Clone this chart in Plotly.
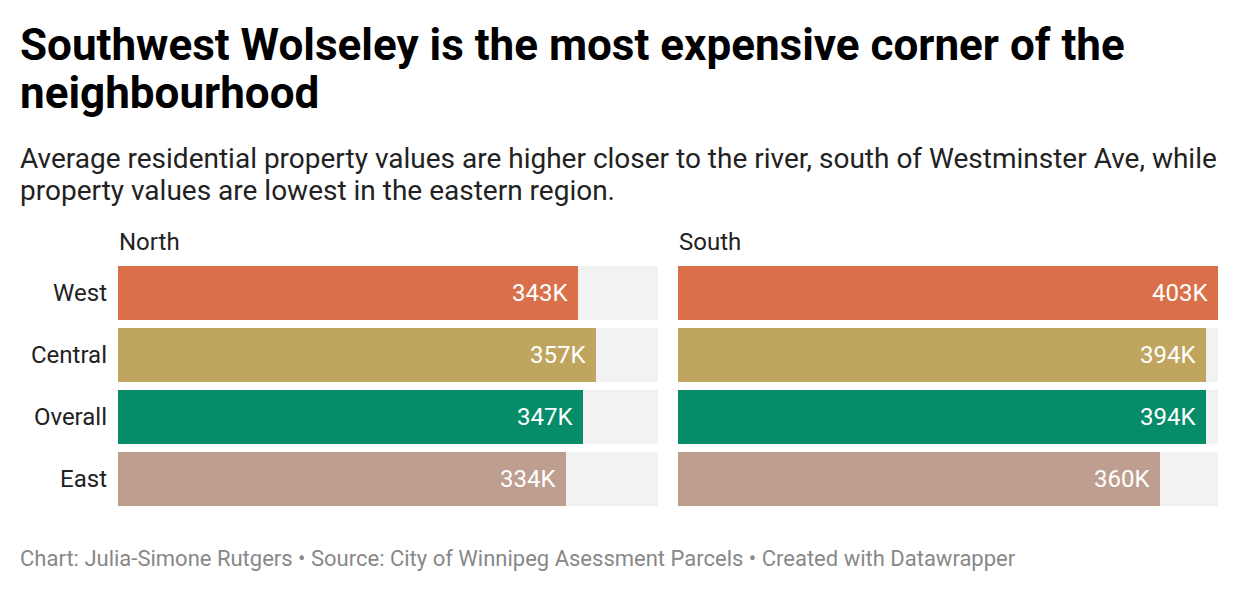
import plotly.graph_objects as go

# ---- data ----
regions = ["West", "Central", "Overall", "East"]
north_values = [343, 357, 347, 334]
south_values = [403, 394, 394, 360]
panel_titles = ["North", "South"]
bar_colors = ["#d9704a", "#c0a55f", "#068c68", "#be9e8e"]

title_lines = ["Southwest Wolseley is the most expensive corner of the", "neighbourhood"]
subtitle_lines = [
    "Average residential property values are higher closer to the river, south of Westminster Ave, while",
    "property values are lowest in the eastern region.",
]
footer = "Chart: Julia-Simone Rutgers • Source: City of Winnipeg Asessment Parcels • Created with Datawrapper"

W, H = 1240, 592
FONT = "Roboto"
vmax = max(max(north_values), max(south_values))


def py(px):
    return 1 - px / H


fig = go.Figure()

panels = [("x", north_values), ("x2", south_values)]
for xa, vals in panels:
    # background track
    fig.add_trace(go.Bar(
        y=regions, x=[vmax] * len(regions), orientation="h",
        marker=dict(color="#f2f2f2", line=dict(width=0)),
        width=54 / 62, xaxis=xa, yaxis="y", hoverinfo="skip", showlegend=False,
    ))
    fig.add_trace(go.Bar(
        y=regions, x=vals, orientation="h",
        marker=dict(color=bar_colors, line=dict(width=0)),
        width=54 / 62, xaxis=xa, yaxis="y", showlegend=False,
    ))
    for r, v in zip(regions, vals):
        fig.add_annotation(
            x=v, y=r, xref=xa, yref="y", text=f"{v}K", showarrow=False,
            xanchor="right", yanchor="middle", xshift=-8,
            font=dict(family=FONT, size=24, color="white"),
        )

x_domains = [[118 / W, 658 / W], [678 / W, 1218 / W]]
fig.update_layout(
    width=W, height=H,
    margin=dict(l=0, r=0, t=0, b=0),
    paper_bgcolor="white", plot_bgcolor="white",
    barmode="overlay", bargap=0,
    xaxis=dict(domain=x_domains[0], range=[0, vmax], visible=False, fixedrange=True),
    xaxis2=dict(domain=x_domains[1], range=[0, vmax], visible=False, fixedrange=True, anchor="y"),
    yaxis=dict(
        domain=[py(510), py(262)], anchor="x",
        categoryorder="array", categoryarray=regions, range=[3.5, -0.5],
        showgrid=False, zeroline=False, showline=False, ticks="",
        tickfont=dict(family=FONT, size=24, color="#222"),
        ticklabelstandoff=10, fixedrange=True,
    ),
    font=dict(family=FONT),
)

# panel titles
for t, dom in zip(panel_titles, x_domains):
    fig.add_annotation(x=dom[0], y=py(242), xref="paper", yref="paper", text=t,
                       showarrow=False, xanchor="left", yanchor="middle",
                       font=dict(family=FONT, size=24, color="#222"), xshift=-1)

# title
for i, line in enumerate(title_lines):
    fig.add_annotation(x=20 / W, y=py(45 + 48 * i), xref="paper", yref="paper", text=f"<b>{line}</b>",
                       showarrow=False, xanchor="left", yanchor="middle",
                       font=dict(family=FONT, size=44, color="#000"), xshift=-2)
# subtitle
for i, line in enumerate(subtitle_lines):
    fig.add_annotation(x=20 / W, y=py(158 + 32 * i), xref="paper", yref="paper", text=line,
                       showarrow=False, xanchor="left", yanchor="middle",
                       font=dict(family=FONT, size=28, color="#222"), xshift=-2)
# footer
fig.add_annotation(x=20 / W, y=py(558), xref="paper", yref="paper", text=footer,
                   showarrow=False, xanchor="left", yanchor="middle",
                   font=dict(family=FONT, size=22, color="#888"), xshift=-2)

fig.write_html("out.html", config={"displayModeBar": False})
